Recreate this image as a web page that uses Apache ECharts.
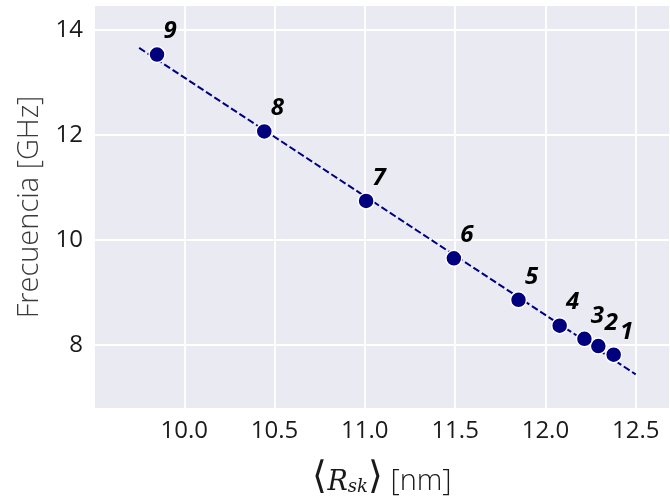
<!DOCTYPE html>
<html>
<head>
<meta charset="utf-8">
<script src="https://cdn.jsdelivr.net/npm/echarts@6/dist/echarts.min.js"></script>
<style>
  html, body { margin: 0; padding: 0; background: #ffffff; }
  #chart { width: 670px; height: 501px; }
</style>
</head>
<body>
<div id="chart"></div>
<script>
// Mean skyrmion radius <R_sk> (nm) and resonance frequency (GHz) per state
const pointLabels = ['1', '2', '3', '4', '5', '6', '7', '8', '9'];
const radiusNm = [12.378, 12.293, 12.216, 12.079, 11.851, 11.493, 11.007, 10.443, 9.849];
const freqGHz = [7.813, 7.977, 8.115, 8.367, 8.859, 9.648, 10.74, 12.064, 13.527];

// Linear fit drawn as a dashed line
const fitX = [9.75, 12.50];
const fitY = [13.654, 7.44];

const FONT = '"Open Sans", "Noto Sans", sans-serif';
const NAVY = '#00007f';

const chart = echarts.init(document.getElementById('chart'), null, { renderer: 'canvas' });

chart.setOption({
  animation: false,
  backgroundColor: '#ffffff',
  grid: {
    left: 94, right: 0, top: 5, bottom: 89,
    show: true, backgroundColor: '#eaeaf2', borderWidth: 0
  },
  xAxis: {
    type: 'value',
    min: 9.5, max: 12.69,
    splitNumber: 6, minInterval: 0.5, maxInterval: 0.5,
    axisLine: { show: false },
    axisTick: { show: false },
    axisLabel: {
      showMinLabel: false, showMaxLabel: false,
      margin: 10, color: '#1a1a1a', fontFamily: FONT, fontSize: 24,
      formatter: v => v.toFixed(1)
    },
    splitLine: { show: true, lineStyle: { color: '#ffffff', width: 1.8 } },
    name: '{a|⟨}{r|R}{s|sk}{a|⟩}{n| [nm]}',
    nameLocation: 'middle',
    nameGap: 43,
    nameTextStyle: {
      rich: {
        a: { fontFamily: '"Noto Sans", sans-serif', fontSize: 38, color: '#1a1a1a', fontWeight: 300, verticalAlign: 'bottom', lineHeight: 44 },
        r: { fontFamily: '"DejaVu Serif", serif', fontStyle: 'italic', fontSize: 27, color: '#1a1a1a', verticalAlign: 'bottom', lineHeight: 39 },
        s: { fontFamily: '"DejaVu Serif", serif', fontStyle: 'italic', fontSize: 18, color: '#1a1a1a', verticalAlign: 'bottom', lineHeight: 31 },
        n: { fontFamily: FONT, fontWeight: 300, fontSize: 29, color: '#1a1a1a', verticalAlign: 'bottom', lineHeight: 39 }
      }
    }
  },
  yAxis: {
    type: 'value',
    min: 6.78, max: 14.47,
    splitNumber: 4, minInterval: 2, maxInterval: 2,
    axisLine: { show: false },
    axisTick: { show: false },
    axisLabel: {
      showMinLabel: false, showMaxLabel: false,
      margin: 11, color: '#1a1a1a', fontFamily: FONT, fontSize: 24
    },
    splitLine: { show: true, lineStyle: { color: '#ffffff', width: 1.8 } },
    name: 'Frecuencia [GHz]',
    nameLocation: 'middle',
    nameGap: 50,
    nameTextStyle: { fontFamily: FONT, fontWeight: 300, fontSize: 29, color: '#3a3a3a' }
  },
  series: [
    {
      type: 'line',
      data: fitX.map((x, i) => [x, fitY[i]]),
      showSymbol: false,
      lineStyle: { color: NAVY, width: 2, type: [7, 3] },
      z: 2
    },
    {
      type: 'scatter',
      data: radiusNm.map((x, i) => ({ value: [x, freqGHz[i]], name: pointLabels[i] })),
      symbol: 'circle',
      symbolSize: 16,
      itemStyle: { color: NAVY, opacity: 1, borderColor: '#ffffff', borderWidth: 1.5 },
      label: {
        show: true,
        position: 'inside',
        offset: [13, -23],
        formatter: p => p.name,
        fontFamily: FONT,
        fontWeight: 'bold',
        fontStyle: 'italic',
        fontSize: 24,
        color: '#000000',
        textBorderWidth: 0
      },
      z: 3
    }
  ]
});
</script>
</body>
</html>
